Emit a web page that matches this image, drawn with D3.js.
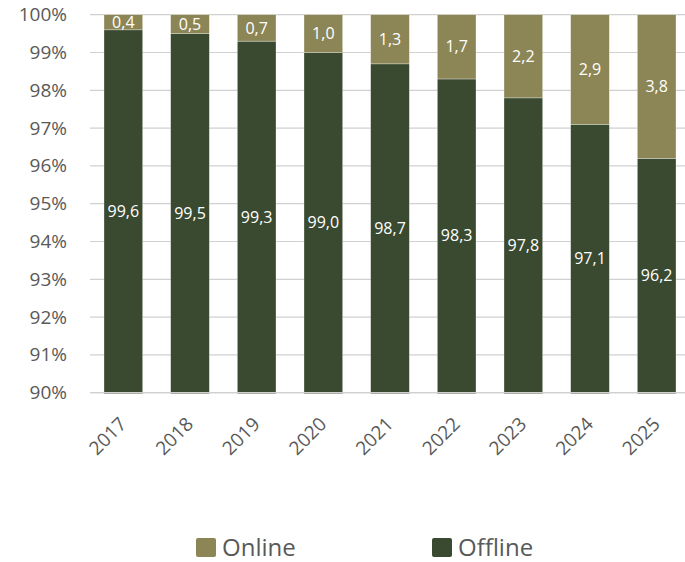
<!DOCTYPE html>
<html>
<head>
<meta charset="utf-8">
<script src="https://cdn.jsdelivr.net/npm/d3@7"></script>
<style>
  html, body { margin: 0; padding: 0; background: #fff; }
  svg { display: block; font-family: "Open Sans", "DejaVu Sans", sans-serif; }
</style>
</head>
<body>
<svg id="chart" width="685" height="562"></svg>
<script>
// Share of sales by channel, percent
const years = ["2017", "2018", "2019", "2020", "2021", "2022", "2023", "2024", "2025"];
const offline = [99.6, 99.5, 99.3, 99.0, 98.7, 98.3, 97.8, 97.1, 96.2];
const online = [0.4, 0.5, 0.7, 1.0, 1.3, 1.7, 2.2, 2.9, 3.8];
const yTicks = [90, 91, 92, 93, 94, 95, 96, 97, 98, 99, 100];
const seriesNames = ["Online", "Offline"];

const colors = { Online: "#8c8656", Offline: "#3a4a31" };
const textColor = "#595959";

const svg = d3.select("#chart");

const x = d3.scaleBand()
  .domain(years)
  .range([90, 690])
  .paddingInner(0.42)
  .paddingOuter(0.21);

const y = d3.scaleLinear()
  .domain([90, 100])
  .range([392.7, 14.7]);

const fmt = v => d3.format(".1f")(v).replace(".", ",");

// Horizontal gridlines
svg.append("g")
  .selectAll("line")
  .data(yTicks)
  .join("line")
  .attr("x1", 90)
  .attr("x2", 685)
  .attr("y1", d => y(d))
  .attr("y2", d => y(d))
  .attr("stroke", "#d0d0d0")
  .attr("stroke-width", 1.2);

// Y axis labels
const yAxis = d3.axisLeft(y)
  .tickValues(yTicks)
  .tickSize(0)
  .tickPadding(0)
  .tickFormat(d => d + "%");
const yg = svg.append("g")
  .attr("transform", "translate(67,0)")
  .call(yAxis);
yg.select(".domain").remove();
yg.selectAll("text")
  .attr("fill", textColor)
  .attr("font-size", 19)
  .attr("font-family", "'Open Sans', sans-serif");

// Stacked rows built from the arrays
const rows = years.map((yr, i) => ({ year: yr, Offline: offline[i], Online: online[i] }));

const bars = svg.append("g");
rows.forEach(r => {
  const bx = x(r.year);
  const bw = x.bandwidth();
  // Offline segment from the 90% baseline up to its share
  bars.append("rect")
    .attr("x", bx)
    .attr("width", bw)
    .attr("y", y(r.Offline))
    .attr("height", y(90) - y(r.Offline) + 1)
    .attr("fill", colors.Offline)
    .attr("stroke", "#ffffff")
    .attr("stroke-opacity", 0.5)
    .attr("stroke-width", 0.6);
  // Online segment on top of it
  bars.append("rect")
    .attr("x", bx)
    .attr("width", bw)
    .attr("y", y(r.Offline + r.Online))
    .attr("height", y(r.Offline) - y(r.Offline + r.Online))
    .attr("fill", colors.Online)
    .attr("stroke", "#ffffff")
    .attr("stroke-opacity", 0.5)
    .attr("stroke-width", 0.6);
});

// Baseline drawn over the bar bottoms
svg.append("line")
  .attr("x1", 90).attr("x2", 685)
  .attr("y1", y(90)).attr("y2", y(90))
  .attr("stroke", "#d0d0d0")
  .attr("stroke-width", 1.2);

// Value labels centred in each segment
const labels = svg.append("g")
  .attr("font-size", 16)
  .attr("fill", "#ffffff")
  .attr("text-anchor", "middle");
rows.forEach(r => {
  const cx = x(r.year) + x.bandwidth() / 2;
  labels.append("text")
    .attr("x", cx)
    .attr("y", y((90 + r.Offline) / 2))
    .attr("dy", "0.35em")
    .text(fmt(r.Offline));
  labels.append("text")
    .attr("x", cx)
    .attr("y", y(r.Offline + r.Online / 2))
    .attr("dy", "0.35em")
    .text(fmt(r.Online));
});

// Rotated year labels
svg.append("g")
  .selectAll("text")
  .data(years)
  .join("text")
  .attr("transform", d => `translate(${x(d) + x.bandwidth() / 2 - 5},${416}) rotate(-45)`)
  .attr("text-anchor", "end")
  .attr("dy", "0.7em")
  .attr("fill", textColor)
  .attr("font-size", 19)
  .text(d => d);

// Legend
const legendPos = { Online: 196, Offline: 432 };
const legend = svg.append("g");
seriesNames.forEach(name => {
  const lx = legendPos[name];
  legend.append("rect")
    .attr("x", lx)
    .attr("y", 538)
    .attr("width", 20)
    .attr("height", 19)
    .attr("rx", 2)
    .attr("fill", colors[name]);
  legend.append("text")
    .attr("x", lx + 26)
    .attr("y", 556)
    .attr("fill", textColor)
    .attr("font-size", 24)
    .text(name);
});
</script>
</body>
</html>
